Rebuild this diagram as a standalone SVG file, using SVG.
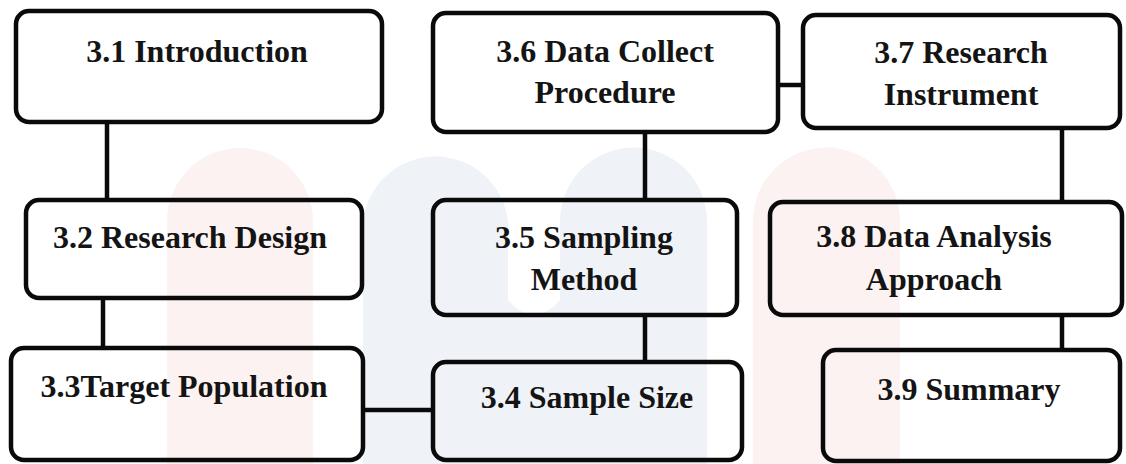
<svg xmlns="http://www.w3.org/2000/svg" width="1126" height="464" viewBox="0 0 1126 464">
  <style>
    .box { fill: none; stroke: #0a0a0a; stroke-width: 4.5; }
    .conn { stroke: #0a0a0a; stroke-width: 4.5; fill: none; }
    .lbl { font-weight: bold; font-size: 32px; fill: #141414; text-anchor: middle; }
    .wm-r { fill: #fdf2f2; }
    .wm-b { fill: #eff3f8; }
  </style>
  <rect x="0" y="0" width="1126" height="464" fill="#ffffff"/>
  <g id="watermark">
    <path class="wm-r" d="M167 221 A73 73 0 0 1 313 221 L313 464 L167 464 Z"/>
    <path class="wm-b" d="M363 221 A73 73 0 0 1 508 221 L508 300 Q534 330 560 300 L560 221 A73 73 0 0 1 707 221 L707 464 L363 464 Z"/>
    <path class="wm-r" d="M753 221 A73 73 0 0 1 900 221 L900 464 L753 464 Z"/>
  </g>
  <g id="connectors">
    <line class="conn" x1="107" y1="122" x2="107" y2="200"/>
    <line class="conn" x1="103" y1="298" x2="103" y2="348"/>
    <line class="conn" x1="363" y1="410" x2="433" y2="410"/>
    <line class="conn" x1="645" y1="315" x2="645" y2="362"/>
    <line class="conn" x1="645" y1="132" x2="645" y2="200"/>
    <line class="conn" x1="778" y1="85" x2="803" y2="85"/>
    <line class="conn" x1="1062" y1="128" x2="1062" y2="202"/>
    <line class="conn" x1="1062" y1="315" x2="1062" y2="350"/>
  </g>
  <g font-family="Liberation Serif, Times New Roman, serif">
  <g id="n31">
    <rect class="box" x="16" y="11" width="366" height="111" rx="13"/>
    <text class="lbl" x="197" y="62">3.1 Introduction</text>
  </g>
  <g id="n32">
    <rect class="box" x="26" y="200" width="336" height="98" rx="13"/>
    <text class="lbl" x="190" y="248">3.2 Research Design</text>
  </g>
  <g id="n33">
    <rect class="box" x="11" y="348" width="352" height="112" rx="13"/>
    <text class="lbl" x="184" y="397">3.3Target Population</text>
  </g>
  <g id="n34">
    <rect class="box" x="433" y="362" width="309" height="98" rx="13"/>
    <text class="lbl" x="587" y="408">3.4 Sample Size</text>
  </g>
  <g id="n35">
    <rect class="box" x="433" y="200" width="304" height="115" rx="13"/>
    <text class="lbl" x="584" y="248">3.5 Sampling</text>
    <text class="lbl" x="584" y="290">Method</text>
  </g>
  <g id="n36">
    <rect class="box" x="433" y="13" width="345" height="119" rx="13"/>
    <text class="lbl" x="605" y="62">3.6 Data Collect</text>
    <text class="lbl" x="605" y="103">Procedure</text>
  </g>
  <g id="n37">
    <rect class="box" x="803" y="15" width="317" height="113" rx="13"/>
    <text class="lbl" x="961" y="63">3.7 Research</text>
    <text class="lbl" x="961" y="105">Instrument</text>
  </g>
  <g id="n38">
    <rect class="box" x="770" y="202" width="352" height="113" rx="13"/>
    <text class="lbl" x="934" y="247">3.8 Data Analysis</text>
    <text class="lbl" x="934" y="290">Approach</text>
  </g>
  <g id="n39">
    <rect class="box" x="823" y="350" width="297" height="111" rx="13"/>
    <text class="lbl" x="969" y="400">3.9 Summary</text>
  </g>
  </g>
</svg>
